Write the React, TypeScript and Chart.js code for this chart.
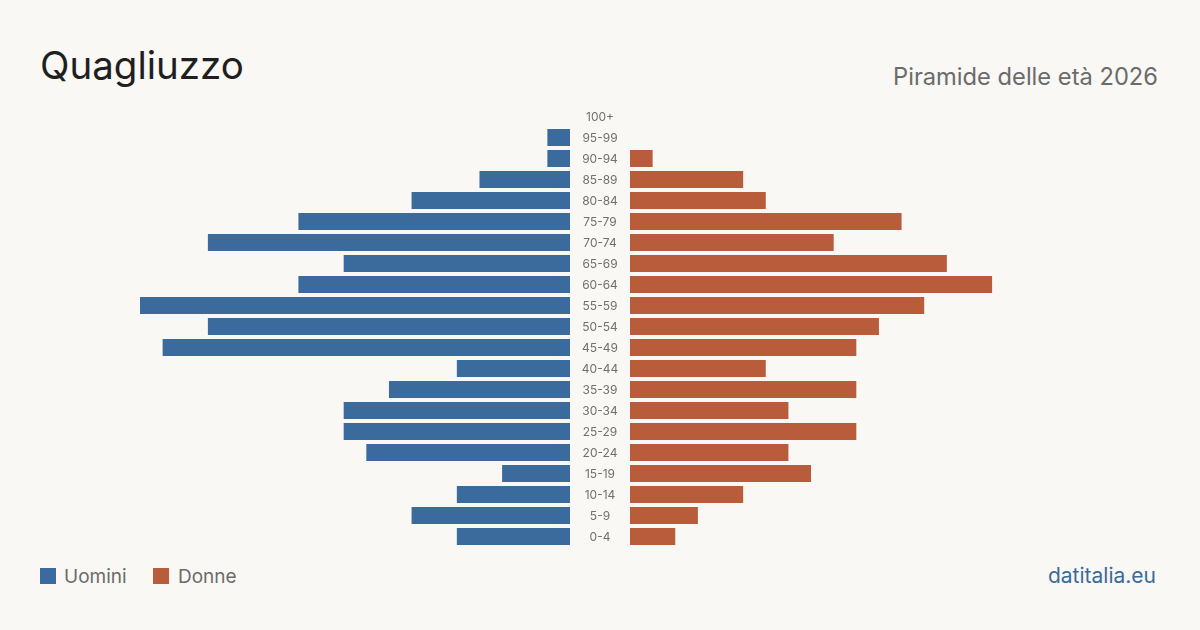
import React, { useEffect, useRef } from "react";
import { Chart, registerables } from "chart.js";

Chart.register(...registerables);

// Age groups from youngest to oldest
const ageGroups = [
  "0-4", "5-9", "10-14", "15-19", "20-24", "25-29", "30-34", "35-39", "40-44", "45-49",
  "50-54", "55-59", "60-64", "65-69", "70-74", "75-79", "80-84", "85-89", "90-94", "95-99", "100+",
];
const men = [5, 7, 5, 3, 9, 10, 10, 8, 5, 18, 16, 19, 12, 10, 16, 12, 7, 4, 1, 1, 0];
const women = [2, 3, 5, 8, 7, 10, 7, 10, 6, 10, 11, 13, 16, 14, 9, 12, 6, 5, 1, 0, 0];

const title = "Quagliuzzo";
const subtitle = "Piramide delle età 2026";
const legendMen = "Uomini";
const legendWomen = "Donne";
const source = "datitalia.eu";

const BLUE = "#3b6a9c";
const ORANGE = "#b95c3c";
const BG = "#f9f8f4";
const FONT = "Inter, 'Noto Sans', sans-serif";

const axisMax = Math.max(...men, ...women);

// Draws the age-group labels centred in the gap left of the right chart's area,
// at the positions given by the chart's own category scale.
const centerLabels = {
  id: "centerLabels",
  afterDraw(chart: any) {
    const { ctx, chartArea, scales } = chart;
    const y = scales.y;
    ctx.save();
    ctx.font = `12px ${FONT}`;
    ctx.fillStyle = "#707070";
    ctx.textAlign = "center";
    ctx.textBaseline = "middle";
    const labels: string[] = chart.data.labels;
    labels.forEach((lab, i) => {
      ctx.fillText(lab, chartArea.left - 30, y.getPixelForValue(i) + 1);
    });
    ctx.restore();
  },
};

export default function App() {
  const leftRef = useRef<HTMLCanvasElement>(null);
  const rightRef = useRef<HTMLCanvasElement>(null);

  useEffect(() => {
    document.body.style.margin = "0";
    document.body.style.background = BG;
    const common: any = {
      indexAxis: "y",
      responsive: false,
      animation: false,
      maintainAspectRatio: false,
      plugins: { legend: { display: false }, tooltip: { enabled: false } },
    };
    const left = new Chart(leftRef.current!, {
      type: "bar",
      data: {
        labels: ageGroups,
        datasets: [
          {
            label: legendMen,
            data: men,
            backgroundColor: BLUE,
            barPercentage: 17 / 21,
            categoryPercentage: 1,
          },
        ],
      },
      options: {
        ...common,
        layout: { padding: 0 },
        scales: {
          x: { display: false, min: 0, max: axisMax, reverse: true },
          y: { display: false, reverse: true },
        },
      },
    });
    const right = new Chart(rightRef.current!, {
      type: "bar",
      data: {
        labels: ageGroups,
        datasets: [
          {
            label: legendWomen,
            data: women,
            backgroundColor: ORANGE,
            barPercentage: 17 / 21,
            categoryPercentage: 1,
          },
        ],
      },
      options: {
        ...common,
        layout: { padding: { left: 60, right: 0, top: 0, bottom: 0 } },
        scales: {
          x: { display: false, min: 0, max: axisMax },
          y: { display: false, reverse: true },
        },
      },
      plugins: [centerLabels],
    });
    return () => {
      left.destroy();
      right.destroy();
    };
  }, []);

  return (
    <div
      style={{
        position: "relative",
        width: 1200,
        height: 630,
        background: BG,
        fontFamily: FONT,
        overflow: "hidden",
      }}
    >
      <div
        style={{
          position: "absolute",
          left: 40,
          top: 46,
          fontSize: 38.5,
          lineHeight: "38px",
          color: "#1f1f1f",
          whiteSpace: "nowrap",
        }}
      >
        {title}
      </div>
      <div
        style={{
          position: "absolute",
          right: 42,
          top: 65,
          fontSize: 23.7,
          lineHeight: "24px",
          color: "#6b6b6b",
          whiteSpace: "nowrap",
        }}
      >
        {subtitle}
      </div>
      <canvas
        ref={leftRef}
        width={430}
        height={441}
        style={{ position: "absolute", left: 140, top: 106, width: 430, height: 441 }}
      />
      <canvas
        ref={rightRef}
        width={490}
        height={441}
        style={{ position: "absolute", left: 570, top: 106, width: 490, height: 441 }}
      />
      <div style={{ position: "absolute", left: 40, top: 568, width: 16, height: 16, background: BLUE }} />
      <div
        style={{
          position: "absolute",
          left: 64,
          top: 567,
          fontSize: 19,
          lineHeight: "20px",
          color: "#6b6b6b",
          whiteSpace: "nowrap",
        }}
      >
        {legendMen}
      </div>
      <div style={{ position: "absolute", left: 153, top: 568, width: 16, height: 16, background: ORANGE }} />
      <div
        style={{
          position: "absolute",
          left: 178,
          top: 567,
          fontSize: 19,
          lineHeight: "20px",
          color: "#6b6b6b",
          whiteSpace: "nowrap",
        }}
      >
        {legendWomen}
      </div>
      <div
        style={{
          position: "absolute",
          right: 44,
          top: 565,
          fontSize: 21,
          lineHeight: "21px",
          color: BLUE,
          whiteSpace: "nowrap",
        }}
      >
        {source}
      </div>
    </div>
  );
}
